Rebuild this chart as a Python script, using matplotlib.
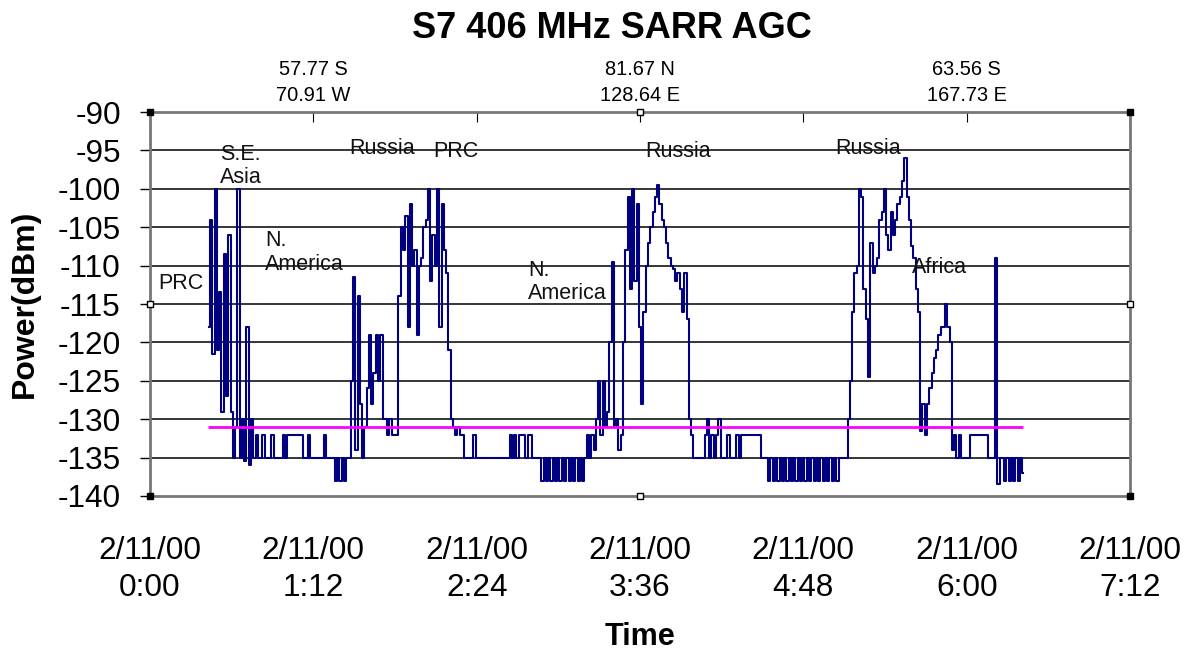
import numpy as np
import matplotlib.pyplot as plt

plt.rcParams['font.family'] = ['Liberation Sans', 'DejaVu Sans']
plt.rcParams['axes.unicode_minus'] = False

# AGC samples, one per minute starting 26 min after 0:00
t_start = 26
t_step = 1

pass1 = [-118, -104, -121.5, -100, -121, -113.5, -129, -108.5, -127, -106,
         -129, -135, -131, -100, -135, -130, -135.5, -118, -136, -130,
         -135, -132, -135, -135, -132, -135, -135, -135, -132, -135,
         -135, -135, -135, -132, -135, -132, -132, -132, -132, -132,
         -132, -132, -135, -135, -132, -135, -135, -135, -135, -135,
         -135, -132, -135, -135]
pass2 = [-135, -135, -138, -135, -138, -135, -138, -135, -135, -125,
         -111.5, -134, -114, -128, -135, -131, -126, -119, -128, -124,
         -119, -125, -119, -130, -130, -132, -130, -132, -132, -132,
         -114, -105, -108, -103.5, -118, -102, -110, -108, -119, -110,
         -109, -105, -104, -100, -112, -106, -110, -100, -118, -102,
         -108, -111, -121, -130, -131, -132, -131, -132, -132, -135,
         -135, -135, -135, -132, -135, -135, -135, -135, -135, -135,
         -135, -135, -135, -135, -135, -135, -135, -135, -135, -132,
         -135, -132, -135, -132, -132, -132, -135, -132, -132, -135,
         -135, -135, -135, -138, -135, -138, -135, -138, -135, -138,
         -135, -138, -135, -138, -135, -138, -135, -138, -135, -138]
pass3 = [-135, -138, -135, -132, -135, -132, -134, -130, -125, -132,
         -125, -131, -129, -120, -109.5, -131, -130, -134, -132, -120,
         -108, -101, -113, -100, -112, -102, -118, -128, -116, -110,
         -107, -105, -103, -101, -99.5, -102, -104, -105, -107, -109,
         -110, -110.5, -112, -111, -113, -116, -111, -117, -130, -132,
         -135, -135, -135, -135, -135, -132, -130, -135, -132, -135,
         -132, -130, -135, -135, -135, -132, -135, -135, -135, -132,
         -135, -132, -132, -132, -132, -132, -132, -132, -132, -132,
         -135, -135, -135, -138, -135, -138, -135, -138]
pass4 = [-135, -138, -135, -138, -135, -138, -135, -138, -135, -138,
         -135, -138, -135, -138, -135, -138, -135, -138, -135, -138,
         -135, -138, -135, -138, -135, -138, -135, -135, -135, -135,
         -130, -125, -116, -111, -110, -100, -101, -113, -117, -124.5,
         -107, -111, -110, -109, -104, -103, -100, -106, -108, -103,
         -106, -104, -102, -101, -99, -96, -101, -104, -107.5, -109,
         -113, -116, -131.5, -128, -132, -128, -126, -124, -122, -121,
         -119, -118, -118, -115, -118, -120, -134, -132, -135, -132,
         -135, -135, -135, -135, -132, -132, -132, -132, -132, -132,
         -132, -132, -135, -135, -135, -109, -138.5, -135, -135, -138,
         -135, -138, -135, -138, -135, -138, -135, -137]

threshold_dbm = -131
threshold_span = (25.6, 384.8)

time_ticks = [0, 72, 144, 216, 288, 360, 432]
time_labels = ['0:00', '1:12', '2:24', '3:36', '4:48', '6:00', '7:12']
date_label = '2/11/00'
pos_ticks = [72, 216, 360]
pos_labels = ['57.77 S\n70.91 W', '81.67 N\n128.64 E', '63.56 S\n167.73 E']

regions = [('PRC', 3.5, -112.3), ('S.E.\nAsia', 30.9, -97.0),
           ('N.\nAmerica', 50.7, -108.3), ('Russia', 87.7, -94.7),
           ('PRC', 124.7, -95.2), ('N.\nAmerica', 166.6, -112.1),
           ('Russia', 218.2, -95.2), ('Russia', 302.0, -94.7),
           ('Africa', 335.9, -110.3)]

agc = np.array(pass1 + pass2 + pass3 + pass4)
t = t_start + t_step * np.arange(len(agc))

fig = plt.figure(figsize=(11.86, 6.54), dpi=100)
ax = fig.add_axes([0.1265, 0.2416, 0.8263, 0.5871])

ax.plot(t, agc, color='#000080', lw=1.5, drawstyle='steps-mid', zorder=3)
ax.hlines(threshold_dbm, *threshold_span, color='#ff00ff', lw=2, zorder=4)

ax.set_xlim(0, 432)
ax.set_ylim(-140, -90)
ax.set_yticks(np.arange(-140, -89, 5))
ax.set_xticks(time_ticks)
ax.set_xticklabels([date_label + '\n' + s for s in time_labels], linespacing=1.3)
ax.tick_params(axis='x', length=0, pad=29, labelsize=22.7)
ax.tick_params(axis='y', length=7, width=1, pad=14, labelsize=22.7)

ax.grid(axis='y', color='black', lw=1.1)
gl = ax.get_ygridlines()
gl[0].set_visible(False)
gl[-1].set_visible(False)

for s in ax.spines.values():
    s.set_linestyle((0, (1, 1)))
    s.set_color('#777777')
    s.set_linewidth(2)

# top axis with sub-satellite positions
sec = ax.secondary_xaxis('top')
sec.set_xticks(time_ticks)
sec.set_xticklabels(['' if x not in pos_ticks else pos_labels[pos_ticks.index(x)]
                     for x in time_ticks], linespacing=1.5)
sec.tick_params(direction='in', length=7, pad=5, labelsize=14.4)
sec.spines['top'].set_visible(False)

for txt, x, y in regions:
    ax.text(x, y, txt, fontsize=15.5, ha='left', va='center', color='#111111',
            linespacing=1.15, zorder=5)

# selection handles of the plot area
for hx, hy in [(0, 0), (1, 0), (0, 1), (1, 1)]:
    ax.plot(hx, hy, 's', ms=5, color='black', transform=ax.transAxes, clip_on=False, zorder=6)
for hx, hy in [(0.5, 0), (0.5, 1), (0, 0.5), (1, 0.5)]:
    ax.plot(hx, hy, 's', ms=4, mfc='white', mec='black', transform=ax.transAxes, clip_on=False, zorder=6)

ax.set_ylabel('Power(dBm)', fontsize=23, fontweight='bold')
ax.yaxis.set_label_coords(-0.112, 0.5)
ax.set_xlabel('Time', fontsize=22, fontweight='bold')
ax.xaxis.set_label_coords(0.5, -0.328)
ax.xaxis.label.set_va('top')

fig.suptitle('S7 406 MHz SARR AGC', x=0.516, y=1 - 28 / 654, va='center',
             fontsize=26, fontweight='bold')

fig.savefig('out.png', dpi=100)
